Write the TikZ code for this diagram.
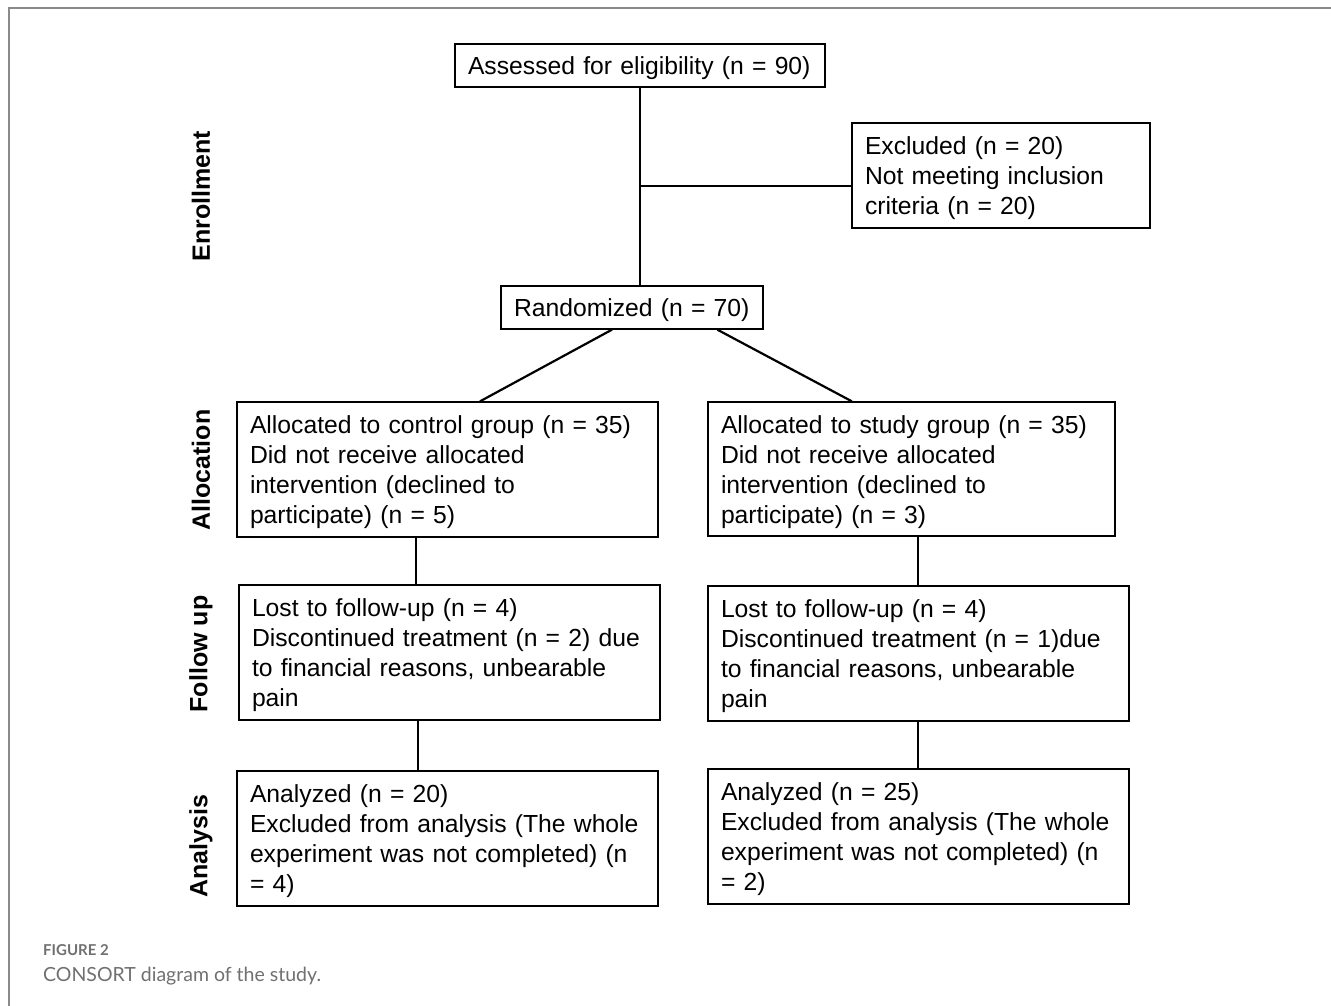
\documentclass[tikz,border=0pt]{standalone}
\usepackage{fontspec}
\setmainfont{Liberation Sans}
\newfontfamily\capfont{Lato}
\usetikzlibrary{calc}
\definecolor{framegray}{HTML}{8A8A8A}
\definecolor{capgray}{HTML}{707070}
\begin{document}
\begin{tikzpicture}[x=1pt,y=-1pt,
  box/.style={draw, line width=1.3pt, align=left, inner xsep=13pt, inner ysep=0pt,
    font=\fontsize{24.7}{30}\selectfont, anchor=center,
    execute at begin node={\rule{0pt}{24pt}}},
  link/.style={line width=2.2pt},
  phase/.style={rotate=90, font=\bfseries\fontsize{25}{30}\selectfont}]
\useasboundingbox (0,0) rectangle (1331,1006);
% frame
\draw[framegray, line width=1.5pt] (9,1006) -- (9,8) -- (1331,8);
% boxes
\node[box, text width=344pt, minimum height=43pt] (assess) at (640,65.5) {Assessed for eligibility (n = 90)};
\node[box, text width=272pt, minimum height=105pt] (excl) at (1001,175.5) {Excluded (n = 20)\\Not meeting inclusion\\criteria (n = 20)};
\node[box, text width=236pt, minimum height=43pt] (rand) at (632,307.5) {Randomized (n = 70)};
\node[box, text width=395pt, minimum height=135pt] (ac) at (447.5,469.5) {Allocated to control group (n = 35)\\Did not receive allocated\\intervention (declined to\\participate) (n = 5)};
\node[box, text width=381pt, minimum height=134pt] (as) at (911.5,469) {Allocated to study group (n = 35)\\Did not receive allocated\\intervention (declined to\\participate) (n = 3)};
\node[box, text width=395pt, minimum height=135pt] (fc) at (449.5,652.5) {Lost to follow-up (n = 4)\\Discontinued treatment (n = 2) due\\to financial reasons, unbearable\\pain};
\node[box, text width=395pt, minimum height=135pt] (fs) at (918.5,653.5) {Lost to follow-up (n = 4)\\Discontinued treatment (n = 1)due\\to financial reasons, unbearable\\pain};
\node[box, text width=395pt, minimum height=135pt] (nc) at (447.5,838.5) {Analyzed (n = 20)\\Excluded from analysis (The whole\\experiment was not completed) (n\\= 4)};
\node[box, text width=395pt, minimum height=135pt] (ns) at (918.5,836.5) {Analyzed (n = 25)\\Excluded from analysis (The whole\\experiment was not completed) (n\\= 2)};
% phase labels
\node[phase] (lenr) at (201,196) {Enrollment};
\node[phase] (lall) at (201,470) {Allocation};
\node[phase] (lfol) at (201,654) {Follow up};
\node[phase] (lana) at (201,846) {Analysis};
% helper coordinates
\coordinate (xl1) at (416,0);
\coordinate (xl2) at (418,0);
\coordinate (xr) at (918,0);
\coordinate (ybr) at (0,186);
% connectors
\draw[link] (assess.south) -- (assess.south |- rand.north);
\draw[link] (assess.south |- ybr) -- (excl.west |- ybr);
\draw[link] ($(rand.south west)!0.424!(rand.south east)$) -- ($(ac.north west)!0.577!(ac.north east)$);
\draw[link] ($(rand.south west)!0.824!(rand.south east)$) -- ($(as.north west)!0.354!(as.north east)$);
\draw[link] (ac.south -| xl1) -- (fc.north -| xl1);
\draw[link] (as.south -| xr) -- (fs.north -| xr);
\draw[link] (fc.south -| xl2) -- (nc.north -| xl2);
\draw[link] (fs.south -| xr) -- (ns.north -| xr);
% caption
\node[anchor=base west, inner sep=0pt, text=capgray, font=\capfont\bfseries\fontsize{15}{17}\selectfont] (capa) at (43,955) {FIGURE 2};
\node[anchor=base west, inner sep=0pt, text=capgray, font=\capfont\fontsize{19.5}{24}\selectfont] (capb) at (43,981) {CONSORT diagram of the study.};
\end{tikzpicture}
\end{document}
